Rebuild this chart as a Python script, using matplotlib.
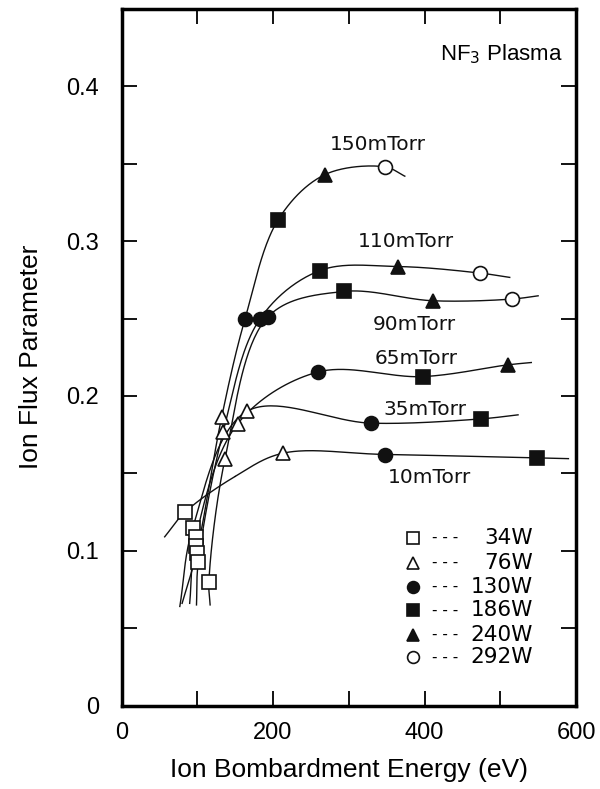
import numpy as np
import matplotlib
matplotlib.use("Agg")
import matplotlib.pyplot as plt

# ---------------- data ----------------
# markers by RF power (x = ion bombardment energy eV, y = ion flux parameter)
w34_x = [83.8, 93.9, 98.3, 98.3, 99.2, 101.3, 115.4]
w34_y = [0.1249, 0.1145, 0.1087, 0.1033, 0.0988, 0.0926, 0.0796]
w76_x = [132.2, 134.3, 136.5, 153.3, 165.2, 213]
w76_y = [0.1863, 0.177, 0.159, 0.182, 0.190, 0.163]
w130_x = [163, 182.7, 193.7, 258.8, 330, 348]
w130_y = [0.2497, 0.2497, 0.2513, 0.2154, 0.1824, 0.162]
w186_x = [207, 261.9, 293.5, 398, 475, 548]
w186_y = [0.314, 0.281, 0.2675, 0.2125, 0.1852, 0.160]
w240_x = [268.5, 365, 411, 510]
w240_y = [0.343, 0.2836, 0.2615, 0.2201]
w292_x = [347.6, 473, 515.6]
w292_y = [0.348, 0.2794, 0.2626]

# curves by pressure
c10_x = [57, 83.8, 150, 213, 348, 548, 590]
c10_y = [0.109, 0.1249, 0.148, 0.163, 0.1622, 0.160, 0.1595]
c35_x = [77, 93.9, 165.2, 330, 475, 523.5]
c35_y = [0.064, 0.1145, 0.190, 0.1824, 0.1852, 0.1878]
c65_x = [90, 98.3, 153.3, 258.8, 398, 510, 541]
c65_y = [0.066, 0.1087, 0.182, 0.2154, 0.2125, 0.2201, 0.2216]
c90_x = [117, 115.4, 136.5, 193.7, 293.5, 411, 515.6, 550]
c90_y = [0.065, 0.0796, 0.159, 0.2513, 0.2675, 0.2615, 0.2626, 0.2647]
c110_x = [99, 101.3, 134.3, 182.7, 261.9, 365, 473, 512.5]
c110_y = [0.065, 0.0926, 0.177, 0.2497, 0.281, 0.2836, 0.2794, 0.2766]
c150_x = [80, 99.2, 132.2, 163, 207, 268.5, 347.6, 374]
c150_y = [0.066, 0.0988, 0.1863, 0.2497, 0.314, 0.343, 0.348, 0.342]

pressure_labels = ["10mTorr", "35mTorr", "65mTorr", "90mTorr", "110mTorr", "150mTorr"]
label_x = [407, 400, 389.5, 387, 376, 338.5]
label_y = [0.147, 0.191, 0.2244, 0.246, 0.2998, 0.3623]

power_labels = ["34W", "76W", "130W", "186W", "240W", "292W"]

# ---------------- helpers ----------------
SX, SY = 0.758, 1547.0  # pixel scale used for smoothing


def smooth(xs, ys, n=40):
    P = np.column_stack([np.asarray(xs) * SX, np.asarray(ys) * SY])
    P = np.vstack([2 * P[0] - P[1], P, 2 * P[-1] - P[-2]])
    out = []
    for i in range(1, len(P) - 2):
        p0, p1, p2, p3 = P[i - 1], P[i], P[i + 1], P[i + 2]
        a = 0.5
        t0 = 0.0
        t1 = t0 + max(np.linalg.norm(p1 - p0), 1e-6) ** a
        t2 = t1 + max(np.linalg.norm(p2 - p1), 1e-6) ** a
        t3 = t2 + max(np.linalg.norm(p3 - p2), 1e-6) ** a
        t = np.linspace(t1, t2, n)[:, None]
        A1 = (t1 - t) / (t1 - t0) * p0 + (t - t0) / (t1 - t0) * p1
        A2 = (t2 - t) / (t2 - t1) * p1 + (t - t1) / (t2 - t1) * p2
        A3 = (t3 - t) / (t3 - t2) * p2 + (t - t2) / (t3 - t2) * p3
        B1 = (t2 - t) / (t2 - t0) * A1 + (t - t0) / (t2 - t0) * A2
        B2 = (t3 - t) / (t3 - t1) * A2 + (t - t1) / (t3 - t1) * A3
        C = (t2 - t) / (t2 - t1) * B1 + (t - t1) / (t2 - t1) * B2
        out.append(C)
    C = np.vstack(out)
    return C[:, 0] / SX, C[:, 1] / SY


# ---------------- figure ----------------
plt.rcParams['font.family'] = ['Liberation Sans', 'DejaVu Sans']
fig = plt.figure(figsize=(6.0, 7.89), dpi=100)
ax = fig.add_axes([0.2025, 0.1058, 0.7575, 0.8828])

ink = '#111111'
for cx, cy in [(c10_x, c10_y), (c35_x, c35_y), (c65_x, c65_y),
               (c90_x, c90_y), (c110_x, c110_y), (c150_x, c150_y)]:
    sx, sy = smooth(cx, cy)
    ax.plot(sx, sy, color=ink, lw=1.0, zorder=2)

mk = dict(linestyle='none', zorder=3, markeredgewidth=1.2)
ax.plot(w34_x, w34_y, marker='s', ms=10.5, mfc='white', mec=ink, **mk)
ax.plot(w76_x, w76_y, marker='^', ms=10, mfc='white', mec=ink, **mk)
ax.plot(w130_x, w130_y, marker='o', ms=10, mfc=ink, mec=ink, **mk)
ax.plot(w186_x, w186_y, marker='s', ms=10, mfc=ink, mec=ink, **mk)
ax.plot(w240_x, w240_y, marker='^', ms=10, mfc=ink, mec=ink, **mk)
ax.plot(w292_x, w292_y, marker='o', ms=10, mfc='white', mec=ink, **mk)

for lab, lx, ly in zip(pressure_labels, label_x, label_y):
    ax.text(lx, ly, lab, ha='center', va='center', fontsize=14.5,
            family=['DejaVu Sans'], color=ink)

# legend drawn inside the plot
leg_markers = [('s', 'white'), ('^', 'white'), ('o', ink), ('s', ink), ('^', ink), ('o', 'white')]
leg_y = [0.1083, 0.0921, 0.0766, 0.0617, 0.0456, 0.0313]
for (m, fc), ly, lab in zip(leg_markers, leg_y, power_labels):
    ax.plot([385], [ly], marker=m, ms=8.5, mfc=fc, mec=ink, mew=1.2, linestyle='none')
    ax.text(410, ly, '- - -', ha='left', va='center', fontsize=11, family=['DejaVu Sans'])
    ax.text(543, ly, lab, ha='right', va='center', fontsize=15.5, family=['DejaVu Sans'])

ax.text(0.97, 0.935, r'NF$_3$ Plasma', transform=ax.transAxes, ha='right', va='center',
        fontsize=16)

ax.set_xlim(0, 600)
ax.set_ylim(0, 0.45)
ax.set_xticks([0, 100, 200, 300, 400, 500, 600])
ax.set_xticklabels(['0', '', '200', '', '400', '', '600'])
ax.set_yticks([0, 0.05, 0.1, 0.15, 0.2, 0.25, 0.3, 0.35, 0.4])
ax.set_yticklabels(['0', '', '0.1', '', '0.2', '', '0.3', '', '0.4'])
ax.tick_params(direction='in', length=10.5, width=1.3, top=True, right=True,
               labelsize=17, pad=12)
ax.tick_params(axis='y', pad=16)
for s in ax.spines.values():
    s.set_linewidth(2.5)

ax.set_xlabel('Ion Bombardment Energy (eV)', fontsize=19, labelpad=10)
ax.set_ylabel('Ion Flux Parameter', fontsize=19, labelpad=17)

fig.savefig('out.png', dpi=100)
